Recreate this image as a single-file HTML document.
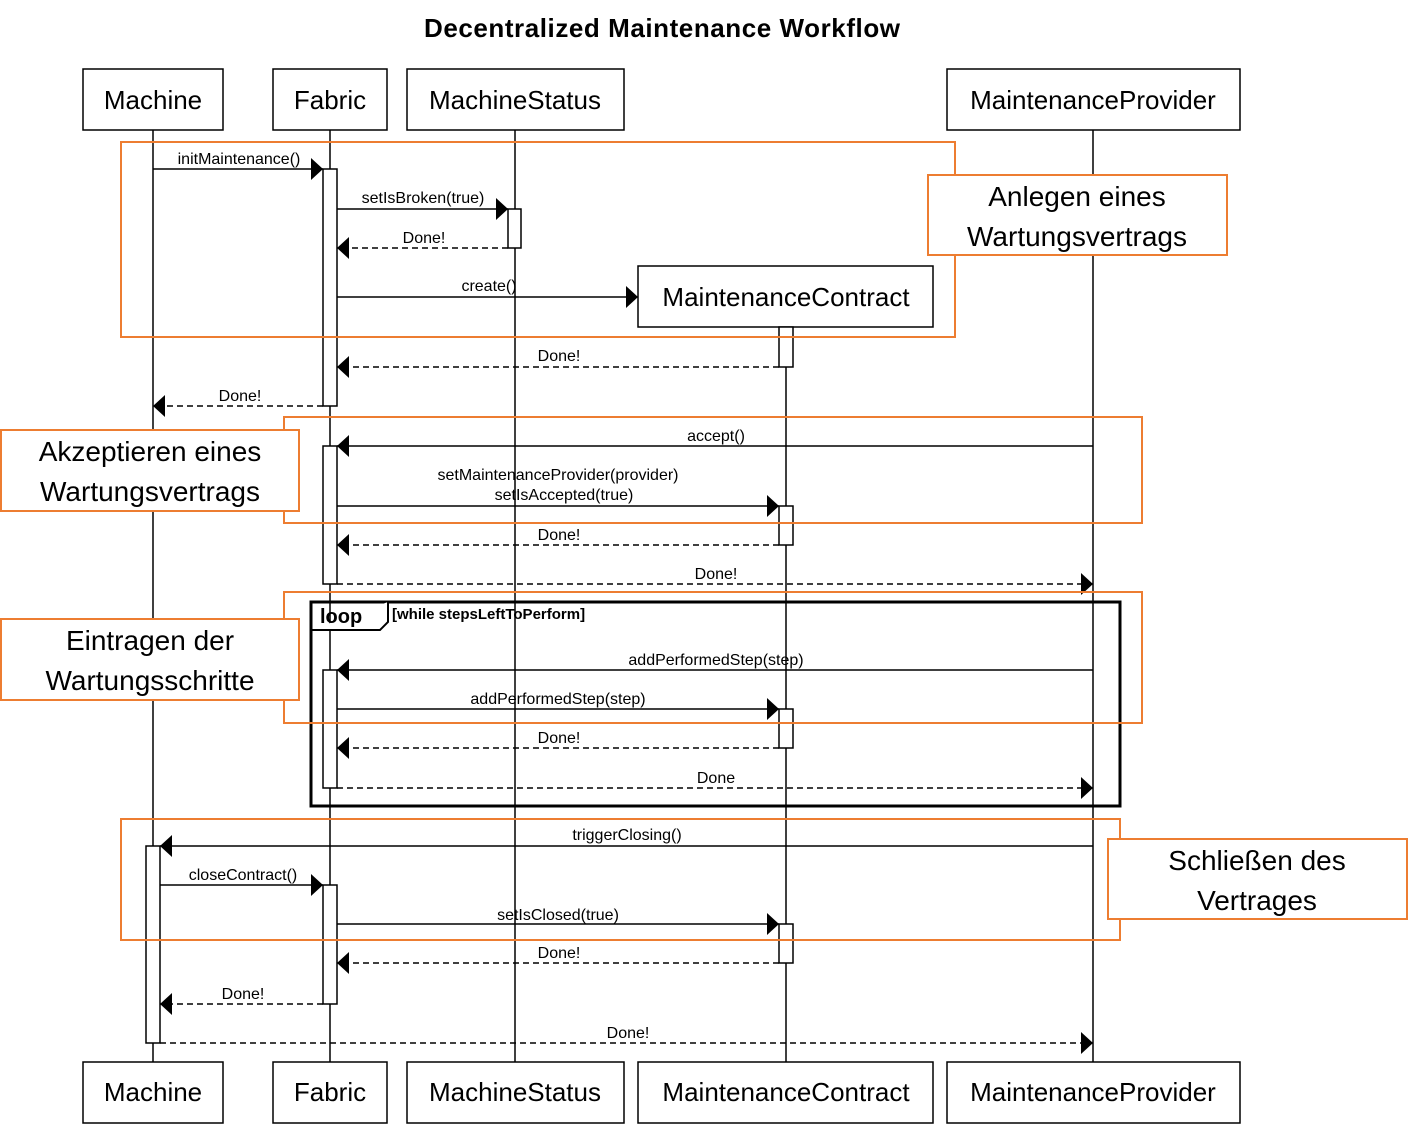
<!DOCTYPE html>
<html><head><meta charset="utf-8"><style>body{margin:0;background:#fff}</style></head><body>
<svg width="1408" height="1125" xmlns="http://www.w3.org/2000/svg" font-family="Liberation Sans, Arial, sans-serif">
<defs>
<marker id="a" markerWidth="12" markerHeight="22" refX="12" refY="11" orient="auto" markerUnits="userSpaceOnUse"><path d="M0,0 L12,11 L0,22 Z" fill="#000"/></marker>
</defs>
<rect width="1408" height="1125" fill="#fff"/>
<text x="662" y="37" font-size="26" font-weight="bold" text-anchor="middle" textLength="476">Decentralized Maintenance Workflow</text>
<g stroke="#000" stroke-width="1.5">
<line x1="153" y1="130" x2="153" y2="1062"/>
<line x1="330" y1="130" x2="330" y2="1062"/>
<line x1="515" y1="130" x2="515" y2="1062"/>
<line x1="786" y1="327" x2="786" y2="1062"/>
<line x1="1093" y1="130" x2="1093" y2="1062"/>
</g>
<g fill="#fff" stroke="#000" stroke-width="1.5">
<rect x="83" y="69" width="140" height="61"/><rect x="273" y="69" width="114" height="61"/>
<rect x="407" y="69" width="217" height="61"/><rect x="947" y="69" width="293" height="61"/>
<rect x="638" y="266" width="295" height="61"/>
<rect x="83" y="1062" width="140" height="61"/><rect x="273" y="1062" width="114" height="61"/>
<rect x="407" y="1062" width="217" height="61"/><rect x="638" y="1062" width="295" height="61"/><rect x="947" y="1062" width="293" height="61"/>
<rect x="323" y="169" width="14" height="237"/><rect x="508" y="209" width="13" height="39"/>
<rect x="779" y="327" width="14" height="40"/><rect x="323" y="446" width="14" height="138"/>
<rect x="779" y="506" width="14" height="39"/><rect x="323" y="670" width="14" height="118"/>
<rect x="779" y="709" width="14" height="39"/><rect x="146" y="846" width="14" height="197"/>
<rect x="323" y="885" width="14" height="119"/><rect x="779" y="924" width="14" height="39"/>
</g>
<g font-size="26" text-anchor="middle">
<text x="153" y="109">Machine</text><text x="330" y="109">Fabric</text><text x="515" y="109">MachineStatus</text><text x="1093" y="109">MaintenanceProvider</text>
<text x="786" y="306">MaintenanceContract</text>
<text x="153" y="1101">Machine</text><text x="330" y="1101">Fabric</text><text x="515" y="1101">MachineStatus</text><text x="786" y="1101">MaintenanceContract</text><text x="1093" y="1101">MaintenanceProvider</text>
</g>
<g stroke="#000" stroke-width="1.5" marker-end="url(#a)" fill="none">
<line x1="153" y1="169" x2="323" y2="169"/>
<line x1="337" y1="209" x2="508" y2="209"/>
<line x1="508" y1="248" x2="337" y2="248" stroke-dasharray="6,4"/>
<line x1="337" y1="297" x2="638" y2="297"/>
<line x1="779" y1="367" x2="337" y2="367" stroke-dasharray="6,4"/>
<line x1="323" y1="406" x2="153" y2="406" stroke-dasharray="6,4"/>
<line x1="1093" y1="446" x2="337" y2="446"/>
<line x1="337" y1="506" x2="779" y2="506"/>
<line x1="779" y1="545" x2="337" y2="545" stroke-dasharray="6,4"/>
<line x1="337" y1="584" x2="1093" y2="584" stroke-dasharray="6,4"/>
<line x1="1093" y1="670" x2="337" y2="670"/>
<line x1="337" y1="709" x2="779" y2="709"/>
<line x1="779" y1="748" x2="337" y2="748" stroke-dasharray="6,4"/>
<line x1="337" y1="788" x2="1093" y2="788" stroke-dasharray="6,4"/>
<line x1="1093" y1="846" x2="160" y2="846"/>
<line x1="160" y1="885" x2="323" y2="885"/>
<line x1="337" y1="924" x2="779" y2="924"/>
<line x1="779" y1="963" x2="337" y2="963" stroke-dasharray="6,4"/>
<line x1="323" y1="1004" x2="160" y2="1004" stroke-dasharray="6,4"/>
<line x1="160" y1="1043" x2="1093" y2="1043" stroke-dasharray="6,4"/>
</g>
<g font-size="16" text-anchor="middle">
<text x="239" y="164">initMaintenance()</text>
<text x="423" y="203">setIsBroken(true)</text>
<text x="424" y="243">Done!</text>
<text x="489" y="291">create()</text>
<text x="559" y="361">Done!</text>
<text x="240" y="401">Done!</text>
<text x="716" y="441">accept()</text>
<text x="558" y="480">setMaintenanceProvider(provider)</text>
<text x="564" y="500">setIsAccepted(true)</text>
<text x="559" y="540">Done!</text>
<text x="716" y="579">Done!</text>
<text x="716" y="665">addPerformedStep(step)</text>
<text x="558" y="704">addPerformedStep(step)</text>
<text x="559" y="743">Done!</text>
<text x="716" y="783">Done</text>
<text x="627" y="840">triggerClosing()</text>
<text x="243" y="880">closeContract()</text>
<text x="558" y="920">setIsClosed(true)</text>
<text x="559" y="958">Done!</text>
<text x="243" y="999">Done!</text>
<text x="628" y="1038">Done!</text>
</g>
<rect x="311" y="602" width="809" height="204" fill="none" stroke="#000" stroke-width="3"/>
<path d="M311,630 L380,630 L388,622 L388,602" fill="#fff" stroke="#000" stroke-width="2"/>
<text x="320" y="623" font-size="20" font-weight="bold">loop</text>
<text x="392" y="619" font-size="15" font-weight="bold">[while stepsLeftToPerform]</text>
<g fill="none" stroke="#ED7D31" stroke-width="2">
<rect x="121" y="142" width="834" height="195"/>
<rect x="284" y="417" width="858" height="106"/>
<rect x="284" y="592" width="858" height="131"/>
<rect x="121" y="819" width="999" height="121"/>
</g>
<g fill="#fff" stroke="#ED7D31" stroke-width="2">
<rect x="928" y="175" width="299" height="80"/>
<rect x="1" y="430" width="298" height="81"/>
<rect x="1" y="619" width="298" height="81"/>
<rect x="1108" y="839" width="299" height="80"/>
</g>
<g font-size="28" text-anchor="middle">
<text x="1077" y="206">Anlegen eines</text><text x="1077" y="246">Wartungsvertrags</text>
<text x="150" y="461">Akzeptieren eines</text><text x="150" y="501">Wartungsvertrags</text>
<text x="150" y="650">Eintragen der</text><text x="150" y="690">Wartungsschritte</text>
<text x="1257" y="870">Schließen des</text><text x="1257" y="910">Vertrages</text>
</g>
</svg>
</body></html>
